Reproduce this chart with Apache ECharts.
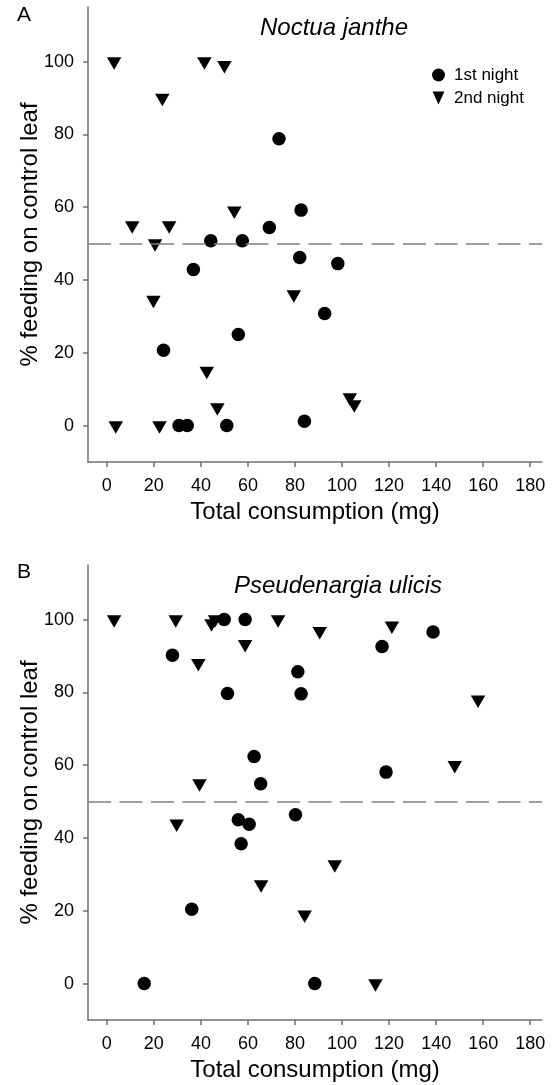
<!DOCTYPE html>
<html>
<head>
<meta charset="utf-8">
<script src="https://cdn.jsdelivr.net/npm/echarts@6/dist/echarts.min.js"></script>
<style>
html,body{margin:0;padding:0;background:#fff;}
#c{width:557px;height:1085px;}
</style>
</head>
<body>
<div id="c"></div>
<script>
// Tick labels
var xTicks = [0, 20, 40, 60, 80, 100, 120, 140, 160, 180];
var yTicks = [0, 20, 40, 60, 80, 100];

// Panel A: Noctua janthe
var a1x = [73.2, 82.6, 69.1, 44.2, 57.6, 36.8, 82.0, 98.2, 92.6, 84.0, 55.9, 24.1, 30.7, 34.2, 51.0];
var a1y = [78.8, 59.2, 54.4, 50.8, 50.8, 42.9, 46.2, 44.5, 30.8, 1.2, 25.0, 20.7, 0, 0, 0];
var a2x = [3.1, 41.5, 50.0, 23.6, 10.8, 26.5, 54.2, 20.5, 19.8, 42.5, 47.0, 3.8, 22.4, 79.5, 103.3, 105.2];
var a2y = [100, 100, 99, 90, 55, 55, 59, 50, 34.5, 15, 5, 0, 0, 36, 7.7, 5.8];

// Panel B: Pseudenargia ulicis
var b1x = [49.9, 58.8, 27.9, 51.3, 62.6, 65.4, 55.9, 60.5, 57.1, 36.1, 15.9, 138.7, 117.0, 81.2, 82.6, 118.7, 80.2, 88.4];
var b1y = [100, 100, 90.2, 79.7, 62.4, 54.9, 45.0, 43.8, 38.4, 20.4, 0, 96.6, 92.6, 85.7, 79.6, 58.1, 46.4, 0];
var b2x = [3.1, 29.3, 46.0, 44.5, 58.8, 38.9, 39.4, 72.8, 90.5, 121.2, 157.8, 147.9, 29.7, 65.6, 96.9, 84.1, 114.2];
var b2y = [100, 100, 100, 98.9, 93.2, 88, 55, 100, 96.8, 98.3, 78, 60, 43.9, 27.2, 32.7, 18.9, 0];

var refLine = 50;

function zip(xs, ys) { return xs.map(function (v, i) { return [v, ys[i]]; }); }

var FONT = '"Liberation Sans", Arial, Helvetica, sans-serif';
var AX = '#707070';

function xAxisDef(idx) {
  return {
    type: 'value', gridIndex: idx, min: -8, max: 185,
    name: 'Total consumption (mg)', nameLocation: 'middle', nameGap: 38, nameMoveOverlap: false,
    nameTextStyle: { fontFamily: FONT, fontSize: 24, color: '#000' },
    axisLine: { show: true, onZero: false, lineStyle: { color: AX, width: 1.5 } },
    axisTick: { show: true, length: 5, customValues: xTicks, lineStyle: { color: AX, width: 1.5 } },
    axisLabel: { customValues: xTicks, fontFamily: FONT, fontSize: 18, color: '#000', margin: 15 },
    splitLine: { show: false }
  };
}
function yAxisDef(idx) {
  return {
    type: 'value', gridIndex: idx, min: -10, max: 115,
    name: '% feeding on control leaf', nameLocation: 'middle', nameGap: 46, nameMoveOverlap: false,
    nameTextStyle: { fontFamily: FONT, fontSize: 24, color: '#000' },
    axisLine: { show: true, onZero: false, lineStyle: { color: AX, width: 1.5 } },
    axisTick: { show: true, length: 5, customValues: yTicks, lineStyle: { color: AX, width: 1.5 } },
    axisLabel: { customValues: yTicks, fontFamily: FONT, fontSize: 18, color: '#000', margin: 14 },
    splitLine: { show: false }
  };
}

var circleStyle = { symbol: 'circle', symbolSize: 13.5, itemStyle: { color: '#000', opacity: 1 } };
var triStyle = { symbol: 'triangle', symbolRotate: 180, symbolSize: [14.5, 12.5], symbolOffset: [0, 2], itemStyle: { color: '#000', opacity: 1 } };

function mk(name, idx, data, st, withLine) {
  var s = { name: name, type: 'scatter', xAxisIndex: idx, yAxisIndex: idx, data: data, z: 3 };
  for (var k in st) s[k] = st[k];
  if (withLine) {
    s.markLine = {
      silent: true, symbol: 'none', animation: false,
      label: { show: false },
      lineStyle: { color: '#808080', width: 1.5, type: [23, 8.5], opacity: 1 },
      data: [{ yAxis: refLine }]
    };
  }
  return s;
}

var chart = echarts.init(document.getElementById('c'), null, { renderer: 'canvas' });
chart.setOption({
  animation: false,
  backgroundColor: '#fff',
  grid: [
    { left: 88, top: 7, width: 454, height: 455 },
    { left: 88, top: 565, width: 454, height: 455 }
  ],
  xAxis: [xAxisDef(0), xAxisDef(1)],
  yAxis: [yAxisDef(0), yAxisDef(1)],
  legend: {
    orient: 'vertical', left: 432, top: 66.5, padding: 0,
    itemWidth: 13, itemHeight: 13, itemGap: 6,
    itemStyle: { opacity: 1 },
    textStyle: { fontFamily: FONT, fontSize: 17, color: '#000', lineHeight: 17, padding: [0, 0, 0, 4] },
    data: [
      { name: '1st night', icon: 'circle' },
      { name: '2nd night', icon: 'path://M0,0L10,0L5,11Z' }
    ]
  },
  graphic: [
    { type: 'text', left: 17, top: 5, style: { text: 'A', font: '21px ' + FONT, fill: '#000' } },
    { type: 'text', left: 17, top: 562, style: { text: 'B', font: '21px ' + FONT, fill: '#000' } },
    { type: 'text', x: 334, y: 28, style: { text: 'Noctua janthe', font: 'italic 24px ' + FONT, fill: '#000', textAlign: 'center', textVerticalAlign: 'middle' } },
    { type: 'text', x: 338, y: 586, style: { text: 'Pseudenargia ulicis', font: 'italic 24px ' + FONT, fill: '#000', textAlign: 'center', textVerticalAlign: 'middle' } }
  ],
  series: [
    mk('1st night', 0, zip(a1x, a1y), circleStyle, true),
    mk('2nd night', 0, zip(a2x, a2y), triStyle, false),
    mk('1st night', 1, zip(b1x, b1y), circleStyle, true),
    mk('2nd night', 1, zip(b2x, b2y), triStyle, false)
  ]
});
</script>
</body>
</html>
